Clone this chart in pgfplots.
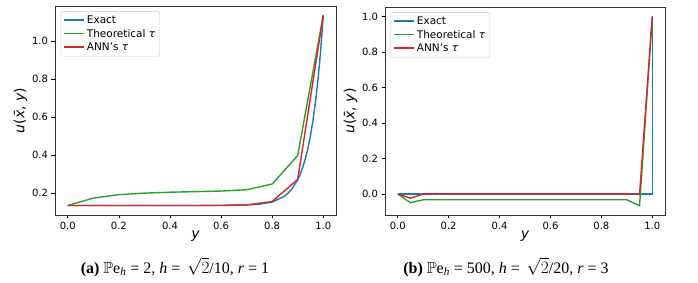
\documentclass[border=0pt]{standalone}
\usepackage{pgfplots}
\pgfplotsset{compat=1.18}
\usepackage{amssymb}
\usepackage{fontspec}
\setmainfont{DejaVu Sans}
\newfontfamily\capfont{Liberation Serif}
\definecolor{mblue}{HTML}{1F77B4}
\definecolor{mgreen}{HTML}{2CA02C}
\definecolor{mred}{HTML}{D62728}
\pgfplotsset{
  mystyle/.style={
    scale only axis, width=281pt, height=209pt,
    xmin=-0.05, xmax=1.05,
    xtick={0,0.2,0.4,0.6,0.8,1.0},
    tick align=outside, tick pos=left, major tick length=3.5pt,
    tick style={black, line width=0.7pt},
    axis line style={black!80, line width=0.9pt},
    ticklabel style={font=\fontsize{10}{12}\selectfont},
    /pgf/number format/.cd, fixed, fixed zerofill, precision=1, assume math mode=true,
    /pgfplots/.cd,
    xlabel={\textit{y}}, ylabel={\textit{u}(\textit{\={x}}, \textit{y})},
    label style={font=\fontsize{14}{16}\selectfont},
    xlabel style={yshift=3pt, inner sep=1pt},
    ylabel style={yshift=-2pt},
    legend style={at={(0.02,0.975)}, anchor=north west, draw=black!20, rounded corners=2pt,
      font=\fontsize{10.5}{12}\selectfont, inner sep=2.5pt},
    legend cell align=left,
    legend image code/.code={\draw[#1, line width=1.6pt] (0pt,0.4pt) -- (20pt,0.4pt);},
  }
}
\begin{document}
\begin{tikzpicture}
\useasboundingbox (0,0) rectangle (698pt,283pt);
\begin{axis}[mystyle, at={(55pt,68pt)}, anchor=south west,
  ymin=0.085, ymax=1.185, ytick={0.2,0.4,0.6,0.8,1.0}]
\addplot[mblue, line width=1.4pt] coordinates {(0,0.135)(0.5,0.135)(0.7,0.1375)(0.75,0.142)(0.8,0.153)(0.85,0.185)(0.875,0.217)(0.9,0.270)(0.91,0.300)(0.92,0.337)(0.93,0.382)(0.94,0.436)(0.95,0.503)(0.96,0.584)(0.97,0.684)(0.98,0.805)(0.985,0.876)(0.99,0.954)(0.995,1.040)(1.0,1.135)};
\addlegendentry{Exact}
\addplot[mgreen, line width=1.4pt] coordinates {(0,0.135)(0.1,0.174)(0.2,0.192)(0.3,0.200)(0.4,0.205)(0.5,0.208)(0.6,0.211)(0.7,0.218)(0.8,0.248)(0.9,0.398)(1.0,1.135)};
\addlegendentry{Theoretical \textit{τ}}
\addplot[mred, line width=1.4pt] coordinates {(0,0.135)(0.1,0.135)(0.2,0.135)(0.3,0.135)(0.4,0.135)(0.5,0.135)(0.6,0.135)(0.7,0.138)(0.8,0.156)(0.9,0.272)(1.0,1.135)};
\addlegendentry{ANN's \textit{τ}}
\end{axis}
\begin{axis}[mystyle, at={(385pt,68pt)}, anchor=south west, width=280pt, height=208pt,
  ymin=-0.118, ymax=1.053, ytick={0.0,0.2,0.4,0.6,0.8,1.0}]
\addplot[mblue, line width=1.4pt] coordinates {(0,0)(1.0,0)(1.0,1.0)};
\addlegendentry{Exact}
\addplot[mgreen, line width=1.4pt] coordinates {(0,0)(0.05,-0.049)(0.1,-0.032)(0.15,-0.032)(0.2,-0.032)(0.3,-0.032)(0.4,-0.032)(0.5,-0.032)(0.6,-0.032)(0.7,-0.032)(0.8,-0.032)(0.85,-0.032)(0.9,-0.032)(0.95,-0.066)(1.0,1.0)};
\addlegendentry{Theoretical \textit{τ}}
\addplot[mred, line width=1.4pt] coordinates {(0,0)(0.05,-0.023)(0.1,0)(0.15,0.002)(0.2,0.001)(0.3,0.001)(0.4,0.001)(0.5,0.001)(0.6,0.001)(0.7,0.001)(0.8,0.001)(0.9,0.001)(0.95,-0.003)(1.0,1.0)};
\addlegendentry{ANN's \textit{τ}}
\end{axis}
\node[font=\capfont\fontsize{16}{18}\selectfont, inner sep=0pt] at (175pt,16pt) {\textbf{(a)} $\mathbb{P}$e\textsubscript{\textit{h}} = 2, \textit{h} = \,$\sqrt{2}$/10, \textit{r} = 1};
\node[font=\capfont\fontsize{16}{18}\selectfont, inner sep=0pt] at (506pt,16pt) {\textbf{(b)} $\mathbb{P}$e\textsubscript{\textit{h}} = 500, \textit{h} = \,$\sqrt{2}$/20, \textit{r} = 3};
\end{tikzpicture}
\end{document}
